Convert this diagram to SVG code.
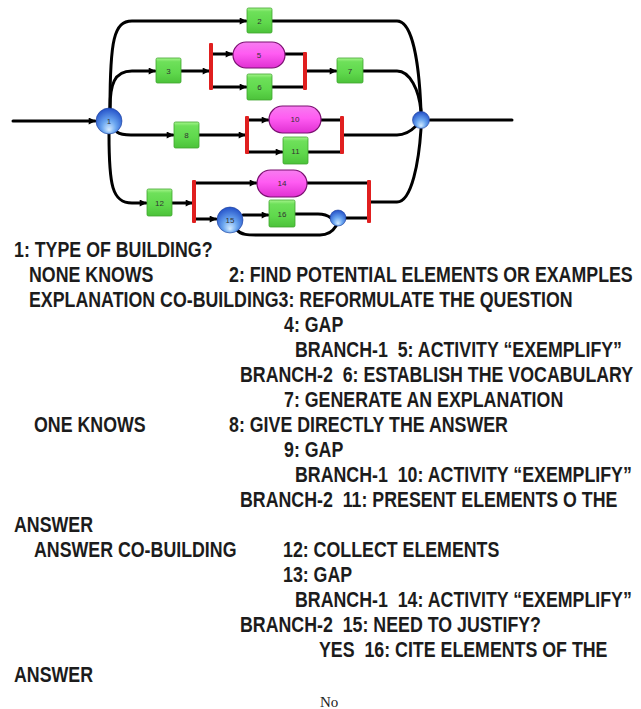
<svg xmlns="http://www.w3.org/2000/svg" width="641" height="709" viewBox="0 0 641 709">
<style>
.c{fill:none;stroke:#000;stroke-width:3;stroke-linecap:round}
.a{marker-end:url(#ah)}
.box{fill:url(#gg);stroke:#3fa52e;stroke-width:0.8}
.pill{fill:url(#pg);stroke:#7a1070;stroke-width:1.2}
.bar{fill:#e01f1f}
.sph{fill:url(#bg);stroke:#1d3f9a;stroke-width:0.6}
.nl{font-family:"Liberation Sans",Arial,sans-serif;font-size:8px;fill:#333;text-anchor:middle}
.t{font-family:"Liberation Sans",Arial,sans-serif;font-weight:bold;font-size:21.7px;fill:#1c1c1c;white-space:pre}
.s{font-family:"Liberation Serif","Times New Roman",serif;font-size:15px;fill:#222}
</style>
<defs>
<marker id="ah" viewBox="0 0 10 10" refX="9" refY="5" markerWidth="8" markerHeight="7" markerUnits="userSpaceOnUse" orient="auto">
<path d="M0,0 L10,5 L0,10 z" fill="#000"/>
</marker>
<linearGradient id="gg" x1="0" y1="0" x2="0" y2="1">
<stop offset="0" stop-color="#a6f58c"/>
<stop offset="0.15" stop-color="#6ee05a"/>
<stop offset="0.6" stop-color="#5fd84c"/>
<stop offset="1" stop-color="#4cc23a"/>
</linearGradient>
<linearGradient id="pg" x1="0" y1="0" x2="0" y2="1">
<stop offset="0" stop-color="#f77cf0"/>
<stop offset="0.45" stop-color="#ff5cf2"/>
<stop offset="1" stop-color="#e030d2"/>
</linearGradient>
<radialGradient id="bg" cx="0.5" cy="0.6" r="0.6" fx="0.5" fy="0.85">
<stop offset="0" stop-color="#d6ecff"/>
<stop offset="0.45" stop-color="#6aa6f0"/>
<stop offset="1" stop-color="#2350c8"/>
</radialGradient>
</defs>

<g id="connectors">
<path class="c a" d="M13,121 H95"/>
<path class="c a" d="M110,108 C110,40 114,21 132,21 H246"/>
<path class="c" d="M272,21 H397 C412,21 419,60 421,111"/>
<path class="c a" d="M110,108 C110,85 114,71 132,71 H155"/>
<path class="c a" d="M180,71 H209"/>
<path class="c a" d="M211,54 H232"/>
<path class="c a" d="M211,87 H246"/>
<path class="c" d="M285,54 H305"/>
<path class="c" d="M272,87 H305"/>
<path class="c a" d="M305,71 H336"/>
<path class="c" d="M363,71 H397 C410,71 419,90 421,111"/>
<path class="c a" d="M117,132 Q121,135 131,135 H173"/>
<path class="c a" d="M199,135 H245"/>
<path class="c a" d="M247,120 H268"/>
<path class="c a" d="M247,152 H282"/>
<path class="c" d="M321,120 H342"/>
<path class="c" d="M308,152 H342"/>
<path class="c" d="M342,135 H397 C405,135 412,130 416,126"/>
<path class="c a" d="M109,134 C109,185 112,203 132,203 H146"/>
<path class="c a" d="M172,203 H192"/>
<path class="c a" d="M194,183 H256"/>
<path class="c a" d="M194,219 H216"/>
<path class="c a" d="M243,215 H268"/>
<path class="c" d="M295,214 H318 Q326,214 331,218"/>
<path class="c" d="M237,230 C241,235 248,235 258,235 H320 C328,235 333,231 336,226"/>
<path class="c" d="M346,218 H369"/>
<path class="c" d="M307,183 H369"/>
<path class="c" d="M369,202 H397 C412,202 419,160 421,129"/>
<path class="c" d="M430,120 H512"/>
</g>

<g id="bars">
<rect class="bar" x="209" y="43" width="4" height="47" rx="1"/>
<rect class="bar" x="303" y="52" width="4" height="38" rx="1"/>
<rect class="bar" x="245" y="116" width="4" height="38" rx="1"/>
<rect class="bar" x="340" y="116" width="4" height="38" rx="1"/>
<rect class="bar" x="192" y="180" width="4" height="43" rx="1"/>
<rect class="bar" x="367" y="180" width="4" height="43" rx="1"/>
</g>

<g id="n1"><circle class="sph" cx="109" cy="121" r="13"/><text class="nl" x="109" y="124">1</text></g>
<g id="n2"><rect class="box" x="247" y="8" width="25" height="25" rx="1.5"/><text class="nl" x="259.5" y="23.5">2</text></g>
<g id="n3"><rect class="box" x="156" y="58" width="25" height="25" rx="1.5"/><text class="nl" x="168.5" y="73.5">3</text></g>
<g id="n5"><rect class="pill" x="233" y="42" width="52" height="26" rx="13"/><text class="nl" x="259" y="57.5">5</text></g>
<g id="n6"><rect class="box" x="247" y="74" width="25" height="26" rx="1.5"/><text class="nl" x="259.5" y="90">6</text></g>
<g id="n7"><rect class="box" x="337" y="58" width="26" height="25" rx="1.5"/><text class="nl" x="350" y="73.5">7</text></g>
<g id="n8"><rect class="box" x="174" y="122" width="25" height="26" rx="1.5"/><text class="nl" x="186.5" y="138">8</text></g>
<g id="n10"><rect class="pill" x="269" y="106" width="52" height="27" rx="13.5"/><text class="nl" x="295" y="122">10</text></g>
<g id="n11"><rect class="box" x="283" y="137" width="25" height="27" rx="1.5"/><text class="nl" x="295.5" y="153.5">11</text></g>
<g id="n12"><rect class="box" x="147" y="189" width="25" height="27" rx="1.5"/><text class="nl" x="159.5" y="205.5">12</text></g>
<g id="n14"><rect class="pill" x="257" y="170" width="50" height="27" rx="13.5"/><text class="nl" x="282" y="186">14</text></g>
<g id="n15"><circle class="sph" cx="230" cy="220" r="13"/><text class="nl" x="230" y="223">15</text></g>
<g id="n16"><rect class="box" x="269" y="200" width="26" height="27" rx="1.5"/><text class="nl" x="282" y="216.5">16</text></g>
<g id="nj"><circle class="sph" cx="338" cy="218" r="8"/></g>
<g id="nout"><circle class="sph" cx="421" cy="120" r="8.5"/></g>

<g id="legend" transform="scale(0.82 1)">
<text class="t" x="17.07" y="257">1: TYPE OF BUILDING?</text>
<text class="t" x="35.37" y="282">NONE KNOWS</text>
<text class="t" x="279.27" y="282">2: FIND POTENTIAL ELEMENTS OR EXAMPLES</text>
<text class="t" x="35.37" y="307">EXPLANATION CO-BUILDING3: REFORMULATE THE QUESTION</text>
<text class="t" x="346.34" y="332">4: GAP</text>
<text class="t" x="359.76" y="357">BRANCH-1  5: ACTIVITY “EXEMPLIFY”</text>
<text class="t" x="292.68" y="382">BRANCH-2  6: ESTABLISH THE VOCABULARY</text>
<text class="t" x="346.34" y="407">7: GENERATE AN EXPLANATION</text>
<text class="t" x="41.46" y="432">ONE KNOWS</text>
<text class="t" x="279.27" y="432">8: GIVE DIRECTLY THE ANSWER</text>
<text class="t" x="346.34" y="457">9: GAP</text>
<text class="t" x="359.76" y="482">BRANCH-1  10: ACTIVITY “EXEMPLIFY”</text>
<text class="t" x="292.68" y="507">BRANCH-2  11: PRESENT ELEMENTS O THE</text>
<text class="t" x="17.07" y="532">ANSWER</text>
<text class="t" x="41.46" y="557">ANSWER CO-BUILDING</text>
<text class="t" x="345.12" y="557">12: COLLECT ELEMENTS</text>
<text class="t" x="345.12" y="582">13: GAP</text>
<text class="t" x="359.76" y="607">BRANCH-1  14: ACTIVITY “EXEMPLIFY”</text>
<text class="t" x="292.68" y="632">BRANCH-2  15: NEED TO JUSTIFY?</text>
<text class="t" x="389.02" y="657">YES  16: CITE ELEMENTS OF THE</text>
<text class="t" x="17.07" y="682">ANSWER</text>
</g>
<text class="s" x="320" y="707">No</text>
</svg>
